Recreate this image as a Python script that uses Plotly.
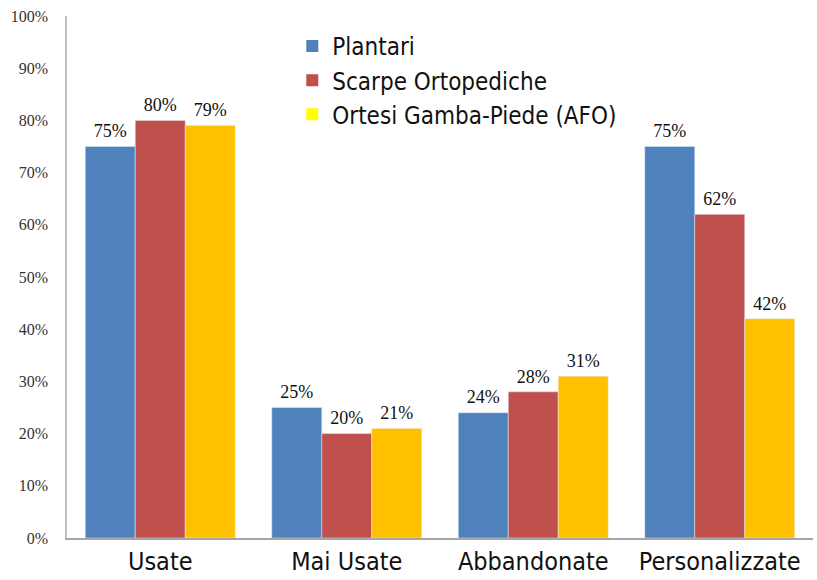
import plotly.graph_objects as go

categories = ["Usate", "Mai Usate", "Abbandonate", "Personalizzate"]
series_names = ["Plantari", "Scarpe Ortopediche", "Ortesi Gamba-Piede (AFO)"]
plantari = [75, 25, 24, 75]
scarpe = [80, 20, 28, 62]
afo = [79, 21, 31, 42]
bar_colors = ["#4F81BD", "#C0504D", "#FFC000"]
legend_colors = ["#4F81BD", "#C0504D", "#FFFF00"]

cat_font = "DejaVu Sans Condensed, Liberation Sans Narrow, sans-serif"
serif = "Liberation Serif, Times New Roman, serif"

fig = go.Figure()
all_vals = [plantari, scarpe, afo]
for name, vals, col in zip(series_names, all_vals, bar_colors):
    fig.add_trace(go.Bar(
        x=categories, y=vals, name=name, marker_color=col, showlegend=False,
        offsetgroup=name,
    ))
for name, vals in zip(series_names, all_vals):
    fig.add_trace(go.Scatter(
        x=categories, y=vals, mode="markers+text", showlegend=False,
        offsetgroup=name, hoverinfo="skip", cliponaxis=False,
        marker=dict(size=6, opacity=0),
        text=[f"{v}%" for v in vals], textposition="top center",
        textfont=dict(family=serif, size=18, color="#111111"),
    ))
for name, col in zip(series_names, legend_colors):
    fig.add_trace(go.Scatter(
        x=[None], y=[None], mode="markers", name=name,
        marker=dict(symbol="square", size=15, color=col),
    ))

fig.update_layout(
    width=817, height=580,
    margin=dict(l=67, r=4, t=16, b=40),
    paper_bgcolor="white", plot_bgcolor="white",
    barmode="group", bargap=0.196, bargroupgap=0,
    scattermode="group", scattergap=0.196,
    legend=dict(x=0.302, y=0.985, xanchor="left", yanchor="top",
                font=dict(family=cat_font, size=24, color="#111111"),
                bgcolor="rgba(0,0,0,0)", tracegroupgap=0, itemsizing="constant"),
    xaxis=dict(showline=True, linecolor="#A6A6A6", linewidth=1.5, ticks="",
               tickfont=dict(family=cat_font, size=25, color="#111111"),
               showgrid=False),
    yaxis=dict(range=[0, 100], dtick=10, ticksuffix="%", showline=True,
               linecolor="#BFBFBF", linewidth=1.5, showgrid=False, zeroline=False,
               tickfont=dict(family=serif, size=16, color="#333333"),
               ticklabelstandoff=14),
)
fig.write_html("out.html")
